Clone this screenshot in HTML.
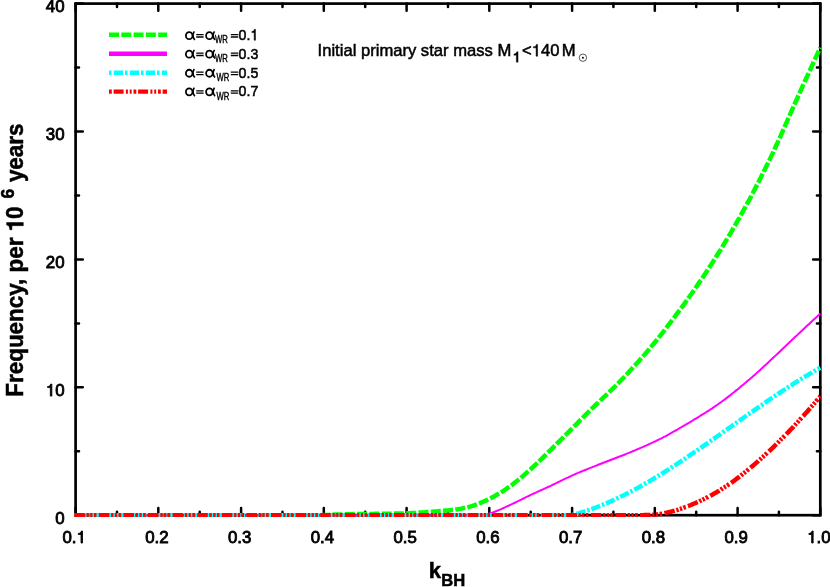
<!DOCTYPE html>
<html><head><meta charset="utf-8"><title>chart</title><style>html,body{margin:0;padding:0;background:#fff}svg text{font-family:"Liberation Sans",sans-serif;fill:#000}body{width:830px;height:587px;overflow:hidden}</style></head><body>
<svg width="830" height="587" viewBox="0 0 830 587" style="display:block;will-change:transform">
<rect width="830" height="587" fill="#fff"/>
<rect x="75.6" y="3.6" width="744.6999999999999" height="511.6" fill="none" stroke="#000" stroke-width="2.7"/>
<path d="M75.6,515.2v-7.2M75.6,3.6v7.2M117.0,515.2v-3.4M117.0,3.6v3.4M158.3,515.2v-7.2M158.3,3.6v7.2M199.7,515.2v-3.4M199.7,3.6v3.4M241.1,515.2v-7.2M241.1,3.6v7.2M282.5,515.2v-3.4M282.5,3.6v3.4M323.8,515.2v-7.2M323.8,3.6v7.2M365.2,515.2v-3.4M365.2,3.6v3.4M406.6,515.2v-7.2M406.6,3.6v7.2M448.0,515.2v-3.4M448.0,3.6v3.4M489.3,515.2v-7.2M489.3,3.6v7.2M530.7,515.2v-3.4M530.7,3.6v3.4M572.1,515.2v-7.2M572.1,3.6v7.2M613.4,515.2v-3.4M613.4,3.6v3.4M654.8,515.2v-7.2M654.8,3.6v7.2M696.2,515.2v-3.4M696.2,3.6v3.4M737.6,515.2v-7.2M737.6,3.6v7.2M778.9,515.2v-3.4M778.9,3.6v3.4M820.3,515.2v-7.2M820.3,3.6v7.2M75.6,515.2h7.2M820.3,515.2h-7.2M75.6,451.3h3.4M820.3,451.3h-3.4M75.6,387.3h7.2M820.3,387.3h-7.2M75.6,323.4h3.4M820.3,323.4h-3.4M75.6,259.4h7.2M820.3,259.4h-7.2M75.6,195.5h3.4M820.3,195.5h-3.4M75.6,131.5h7.2M820.3,131.5h-7.2M75.6,67.6h3.4M820.3,67.6h-3.4M75.6,3.6h7.2M820.3,3.6h-7.2" stroke="#000" stroke-width="2.5" stroke-linecap="round" fill="none"/>
<clipPath id="cp"><rect x="0" y="0" width="830" height="517.1"/></clipPath><g clip-path="url(#cp)">
<path d="M74.19999999999999,515.2 L323.0,515.2 L324.9,515.1 L326.8,515.0 L328.8,514.9 L330.7,514.8 L332.6,514.7 L334.5,514.6 L336.4,514.6 L338.4,514.5 L340.3,514.4 L342.2,514.4 L344.1,514.3 L346.0,514.3 L348.0,514.2 L349.9,514.2 L351.8,514.2 L353.7,514.1 L355.6,514.1 L357.6,514.1 L359.5,514.0 L361.4,514.0 L363.3,514.0 L365.2,514.0 L367.2,513.9 L369.1,513.9 L371.0,513.9 L372.9,513.9 L374.8,513.8 L376.8,513.8 L378.7,513.8 L380.6,513.8 L382.5,513.8 L384.4,513.7 L386.4,513.7 L388.3,513.7 L390.2,513.7 L392.1,513.6 L394.0,513.6 L396.0,513.6 L397.9,513.5 L399.8,513.5 L401.7,513.5 L403.6,513.4 L405.6,513.3 L407.5,513.3 L409.4,513.2 L411.3,513.1 L413.2,513.0 L415.2,512.9 L417.1,512.8 L419.0,512.6 L420.9,512.5 L422.8,512.4 L424.8,512.3 L426.7,512.1 L428.6,512.0 L430.5,511.9 L432.4,511.7 L434.4,511.6 L436.3,511.5 L438.2,511.3 L440.1,511.1 L442.0,511.0 L444.0,510.8 L445.9,510.6 L447.8,510.4 L449.7,510.2 L451.6,510.0 L453.6,509.8 L455.5,509.5 L457.4,509.3 L459.3,508.9 L461.2,508.6 L463.2,508.2 L465.1,507.8 L467.0,507.4 L468.9,506.9 L470.8,506.4 L472.8,505.8 L474.7,505.1 L476.6,504.4 L478.5,503.7 L480.4,502.9 L482.4,502.1 L484.3,501.2 L486.2,500.4 L488.1,499.5 L490.0,498.5 L492.0,497.5 L493.9,496.5 L495.8,495.4 L497.7,494.3 L499.6,493.2 L501.6,492.0 L503.5,490.8 L505.4,489.5 L507.3,488.2 L509.2,486.9 L511.2,485.5 L513.1,484.1 L515.0,482.6 L516.9,481.1 L518.8,479.5 L520.8,477.9 L522.7,476.3 L524.6,474.6 L526.5,472.9 L528.4,471.2 L530.4,469.5 L532.3,467.7 L534.2,465.9 L536.1,464.1 L538.0,462.3 L540.0,460.4 L541.9,458.6 L543.8,456.7 L545.7,454.8 L547.6,452.9 L549.6,451.0 L551.5,449.1 L553.4,447.2 L555.3,445.2 L557.2,443.3 L559.2,441.4 L561.1,439.5 L563.0,437.6 L564.9,435.7 L566.8,433.8 L568.8,431.8 L570.7,429.9 L572.6,428.0 L574.5,426.0 L576.5,424.1 L578.4,422.1 L580.3,420.2 L582.2,418.3 L584.1,416.3 L586.1,414.4 L588.0,412.5 L589.9,410.6 L591.8,408.7 L593.7,406.9 L595.7,405.0 L597.6,403.2 L599.5,401.4 L601.4,399.5 L603.3,397.7 L605.3,395.9 L607.2,394.1 L609.1,392.2 L611.0,390.4 L612.9,388.5 L614.9,386.6 L616.8,384.7 L618.7,382.7 L620.6,380.8 L622.5,378.8 L624.5,376.8 L626.4,374.7 L628.3,372.7 L630.2,370.6 L632.1,368.5 L634.1,366.4 L636.0,364.3 L637.9,362.2 L639.8,360.0 L641.7,357.8 L643.7,355.6 L645.6,353.4 L647.5,351.2 L649.4,348.9 L651.3,346.6 L653.3,344.3 L655.2,342.0 L657.1,339.6 L659.0,337.2 L660.9,334.8 L662.9,332.3 L664.8,329.9 L666.7,327.4 L668.6,324.9 L670.5,322.4 L672.5,319.8 L674.4,317.3 L676.3,314.7 L678.2,312.1 L680.1,309.5 L682.1,306.9 L684.0,304.3 L685.9,301.6 L687.8,298.9 L689.7,296.2 L691.7,293.5 L693.6,290.8 L695.5,288.0 L697.4,285.2 L699.3,282.4 L701.3,279.6 L703.2,276.8 L705.1,273.9 L707.0,271.0 L708.9,268.0 L710.9,265.1 L712.8,262.1 L714.7,259.1 L716.6,256.0 L718.5,253.0 L720.5,249.9 L722.4,246.8 L724.3,243.6 L726.2,240.4 L728.1,237.2 L730.1,234.0 L732.0,230.7 L733.9,227.4 L735.8,224.1 L737.7,220.7 L739.7,217.3 L741.6,213.9 L743.5,210.4 L745.4,206.9 L747.3,203.4 L749.3,199.8 L751.2,196.2 L753.1,192.5 L755.0,188.8 L756.9,185.1 L758.9,181.4 L760.8,177.6 L762.7,173.7 L764.6,169.9 L766.5,166.0 L768.5,162.1 L770.4,158.1 L772.3,154.1 L774.2,150.0 L776.1,145.8 L778.1,141.6 L780.0,137.4 L781.9,133.1 L783.8,128.7 L785.7,124.4 L787.7,120.0 L789.6,115.6 L791.5,111.2 L793.4,106.9 L795.3,102.5 L797.3,98.2 L799.2,93.9 L801.1,89.7 L803.0,85.4 L804.9,81.2 L806.9,77.0 L808.8,72.8 L810.7,68.6 L812.6,64.4 L814.5,60.2 L816.5,56.0 L818.4,51.8 L820.3,47.6" fill="none" stroke="#00ff00" stroke-width="4.5" stroke-dasharray="10 2.3"/>
<path d="M74.19999999999999,515.2 L483.0,515.2 L484.3,514.9 L485.6,514.6 L486.9,514.3 L488.2,513.9 L489.5,513.5 L490.8,513.1 L492.1,512.7 L493.4,512.2 L494.7,511.7 L496.0,511.2 L497.3,510.7 L498.6,510.2 L499.9,509.6 L501.2,509.1 L502.5,508.5 L503.8,507.9 L505.1,507.3 L506.4,506.7 L507.7,506.1 L509.0,505.5 L510.3,504.8 L511.7,504.2 L513.0,503.6 L514.3,503.0 L515.6,502.3 L516.9,501.7 L518.2,501.1 L519.5,500.4 L520.8,499.8 L522.1,499.2 L523.4,498.5 L524.7,497.9 L526.0,497.2 L527.3,496.6 L528.6,496.0 L529.9,495.4 L531.2,494.7 L532.5,494.1 L533.8,493.5 L535.1,492.9 L536.4,492.3 L537.7,491.7 L539.0,491.1 L540.3,490.5 L541.6,490.0 L542.9,489.4 L544.2,488.8 L545.5,488.2 L546.8,487.6 L548.1,487.0 L549.4,486.4 L550.7,485.8 L552.0,485.1 L553.3,484.5 L554.6,483.9 L555.9,483.3 L557.2,482.6 L558.5,482.0 L559.8,481.4 L561.1,480.7 L562.4,480.1 L563.7,479.4 L565.0,478.8 L566.3,478.2 L567.7,477.6 L569.0,477.0 L570.3,476.3 L571.6,475.7 L572.9,475.2 L574.2,474.6 L575.5,474.0 L576.8,473.4 L578.1,472.9 L579.4,472.3 L580.7,471.8 L582.0,471.3 L583.3,470.7 L584.6,470.2 L585.9,469.7 L587.2,469.2 L588.5,468.6 L589.8,468.1 L591.1,467.6 L592.4,467.1 L593.7,466.6 L595.0,466.1 L596.3,465.6 L597.6,465.0 L598.9,464.5 L600.2,464.0 L601.5,463.5 L602.8,463.0 L604.1,462.5 L605.4,462.0 L606.7,461.5 L608.0,461.0 L609.3,460.5 L610.6,460.0 L611.9,459.5 L613.2,459.0 L614.5,458.5 L615.8,458.0 L617.1,457.5 L618.4,457.0 L619.7,456.5 L621.0,456.0 L622.3,455.5 L623.7,455.0 L625.0,454.5 L626.3,453.9 L627.6,453.4 L628.9,452.9 L630.2,452.3 L631.5,451.8 L632.8,451.2 L634.1,450.7 L635.4,450.2 L636.7,449.6 L638.0,449.0 L639.3,448.5 L640.6,447.9 L641.9,447.4 L643.2,446.8 L644.5,446.2 L645.8,445.7 L647.1,445.1 L648.4,444.5 L649.7,443.9 L651.0,443.3 L652.3,442.7 L653.6,442.1 L654.9,441.5 L656.2,440.9 L657.5,440.2 L658.8,439.6 L660.1,438.9 L661.4,438.3 L662.7,437.6 L664.0,436.9 L665.3,436.3 L666.6,435.6 L667.9,434.9 L669.2,434.2 L670.5,433.4 L671.8,432.7 L673.1,432.0 L674.4,431.2 L675.7,430.5 L677.0,429.8 L678.3,429.0 L679.6,428.2 L681.0,427.5 L682.3,426.7 L683.6,425.9 L684.9,425.2 L686.2,424.4 L687.5,423.6 L688.8,422.8 L690.1,422.1 L691.4,421.3 L692.7,420.5 L694.0,419.7 L695.3,418.9 L696.6,418.1 L697.9,417.3 L699.2,416.5 L700.5,415.7 L701.8,414.9 L703.1,414.1 L704.4,413.3 L705.7,412.5 L707.0,411.6 L708.3,410.8 L709.6,410.0 L710.9,409.1 L712.2,408.3 L713.5,407.4 L714.8,406.5 L716.1,405.6 L717.4,404.7 L718.7,403.8 L720.0,402.9 L721.3,402.0 L722.6,401.0 L723.9,400.0 L725.2,399.1 L726.5,398.1 L727.8,397.1 L729.1,396.1 L730.4,395.1 L731.7,394.0 L733.0,393.0 L734.3,392.0 L735.6,390.9 L737.0,389.9 L738.3,388.8 L739.6,387.7 L740.9,386.6 L742.2,385.5 L743.5,384.4 L744.8,383.3 L746.1,382.2 L747.4,381.1 L748.7,380.0 L750.0,378.9 L751.3,377.8 L752.6,376.7 L753.9,375.5 L755.2,374.4 L756.5,373.2 L757.8,372.1 L759.1,370.9 L760.4,369.7 L761.7,368.5 L763.0,367.3 L764.3,366.1 L765.6,364.9 L766.9,363.7 L768.2,362.5 L769.5,361.2 L770.8,360.0 L772.1,358.8 L773.4,357.6 L774.7,356.4 L776.0,355.1 L777.3,353.9 L778.6,352.7 L779.9,351.5 L781.2,350.2 L782.5,349.0 L783.8,347.8 L785.1,346.6 L786.4,345.3 L787.7,344.1 L789.0,342.8 L790.3,341.6 L791.6,340.3 L793.0,339.1 L794.3,337.8 L795.6,336.6 L796.9,335.4 L798.2,334.1 L799.5,332.9 L800.8,331.7 L802.1,330.5 L803.4,329.2 L804.7,328.0 L806.0,326.8 L807.3,325.6 L808.6,324.4 L809.9,323.2 L811.2,322.0 L812.5,320.8 L813.8,319.6 L815.1,318.4 L816.4,317.2 L817.7,316.0 L819.0,314.8 L820.3,313.6" fill="none" stroke="#ff00ff" stroke-width="2.0"/>
<path d="M74.19999999999999,515.2 L571.4,515.2 L572.4,515.0 L573.3,514.7 L574.3,514.5 L575.2,514.2 L576.2,513.9 L577.2,513.7 L578.1,513.4 L579.1,513.1 L580.0,512.8 L581.0,512.5 L582.0,512.2 L582.9,511.9 L583.9,511.7 L584.9,511.3 L585.8,511.0 L586.8,510.7 L587.7,510.4 L588.7,510.1 L589.7,509.8 L590.6,509.4 L591.6,509.1 L592.5,508.7 L593.5,508.4 L594.5,508.0 L595.4,507.7 L596.4,507.3 L597.3,506.9 L598.3,506.6 L599.3,506.2 L600.2,505.8 L601.2,505.4 L602.2,505.0 L603.1,504.6 L604.1,504.2 L605.0,503.8 L606.0,503.4 L607.0,503.0 L607.9,502.6 L608.9,502.2 L609.8,501.7 L610.8,501.3 L611.8,500.9 L612.7,500.4 L613.7,500.0 L614.6,499.5 L615.6,499.1 L616.6,498.6 L617.5,498.2 L618.5,497.7 L619.5,497.3 L620.4,496.8 L621.4,496.3 L622.3,495.9 L623.3,495.4 L624.3,494.9 L625.2,494.4 L626.2,493.9 L627.1,493.5 L628.1,493.0 L629.1,492.5 L630.0,492.0 L631.0,491.5 L631.9,491.0 L632.9,490.5 L633.9,490.0 L634.8,489.5 L635.8,488.9 L636.7,488.4 L637.7,487.9 L638.7,487.4 L639.6,486.8 L640.6,486.3 L641.6,485.7 L642.5,485.2 L643.5,484.6 L644.4,484.1 L645.4,483.5 L646.4,483.0 L647.3,482.4 L648.3,481.9 L649.2,481.3 L650.2,480.7 L651.2,480.1 L652.1,479.6 L653.1,479.0 L654.0,478.4 L655.0,477.8 L656.0,477.3 L656.9,476.7 L657.9,476.1 L658.9,475.5 L659.8,474.9 L660.8,474.3 L661.7,473.7 L662.7,473.1 L663.7,472.5 L664.6,471.9 L665.6,471.3 L666.5,470.7 L667.5,470.1 L668.5,469.5 L669.4,468.9 L670.4,468.3 L671.3,467.6 L672.3,467.0 L673.3,466.4 L674.2,465.7 L675.2,465.1 L676.1,464.5 L677.1,463.8 L678.1,463.2 L679.0,462.6 L680.0,461.9 L681.0,461.3 L681.9,460.6 L682.9,460.0 L683.8,459.3 L684.8,458.7 L685.8,458.1 L686.7,457.4 L687.7,456.8 L688.6,456.1 L689.6,455.5 L690.6,454.8 L691.5,454.2 L692.5,453.5 L693.4,452.9 L694.4,452.2 L695.4,451.6 L696.3,450.9 L697.3,450.2 L698.3,449.6 L699.2,448.9 L700.2,448.3 L701.1,447.6 L702.1,446.9 L703.1,446.3 L704.0,445.6 L705.0,444.9 L705.9,444.2 L706.9,443.6 L707.9,442.9 L708.8,442.2 L709.8,441.6 L710.7,440.9 L711.7,440.2 L712.7,439.5 L713.6,438.9 L714.6,438.2 L715.6,437.5 L716.5,436.8 L717.5,436.2 L718.4,435.5 L719.4,434.8 L720.4,434.2 L721.3,433.5 L722.3,432.8 L723.2,432.1 L724.2,431.4 L725.2,430.8 L726.1,430.1 L727.1,429.4 L728.0,428.7 L729.0,428.0 L730.0,427.4 L730.9,426.7 L731.9,426.0 L732.8,425.3 L733.8,424.6 L734.8,424.0 L735.7,423.3 L736.7,422.6 L737.7,421.9 L738.6,421.2 L739.6,420.5 L740.5,419.9 L741.5,419.2 L742.5,418.5 L743.4,417.8 L744.4,417.1 L745.3,416.5 L746.3,415.8 L747.3,415.1 L748.2,414.4 L749.2,413.8 L750.1,413.1 L751.1,412.4 L752.1,411.8 L753.0,411.1 L754.0,410.4 L755.0,409.8 L755.9,409.1 L756.9,408.4 L757.8,407.7 L758.8,407.1 L759.8,406.4 L760.7,405.7 L761.7,405.1 L762.6,404.4 L763.6,403.7 L764.6,403.1 L765.5,402.4 L766.5,401.8 L767.4,401.1 L768.4,400.4 L769.4,399.8 L770.3,399.1 L771.3,398.5 L772.2,397.8 L773.2,397.2 L774.2,396.5 L775.1,395.9 L776.1,395.2 L777.1,394.6 L778.0,393.9 L779.0,393.3 L779.9,392.6 L780.9,392.0 L781.9,391.4 L782.8,390.7 L783.8,390.1 L784.7,389.5 L785.7,388.8 L786.7,388.2 L787.6,387.6 L788.6,386.9 L789.5,386.3 L790.5,385.7 L791.5,385.1 L792.4,384.5 L793.4,383.9 L794.4,383.2 L795.3,382.6 L796.3,382.0 L797.2,381.4 L798.2,380.8 L799.2,380.2 L800.1,379.6 L801.1,379.0 L802.0,378.4 L803.0,377.9 L804.0,377.3 L804.9,376.7 L805.9,376.1 L806.8,375.5 L807.8,375.0 L808.8,374.4 L809.7,373.8 L810.7,373.2 L811.7,372.7 L812.6,372.1 L813.6,371.6 L814.5,371.0 L815.5,370.4 L816.5,369.9 L817.4,369.3 L818.4,368.8 L819.3,368.2 L820.3,367.7" fill="none" stroke="#00ffff" stroke-width="4.5" stroke-dasharray="9.4 1.9 2.5 1.9"/>
<path d="M74.19999999999999,515.2 L640.0,515.2 L640.7,515.2 L641.4,515.2 L642.1,515.2 L642.8,515.2 L643.5,515.2 L644.2,515.1 L644.9,515.1 L645.6,515.1 L646.3,515.1 L647.0,515.0 L647.7,515.0 L648.4,515.0 L649.0,515.0 L649.7,514.9 L650.4,514.9 L651.1,514.8 L651.8,514.8 L652.5,514.8 L653.2,514.7 L653.9,514.7 L654.6,514.6 L655.3,514.6 L656.0,514.5 L656.7,514.5 L657.4,514.4 L658.1,514.3 L658.8,514.2 L659.5,514.1 L660.2,514.0 L660.9,513.9 L661.6,513.7 L662.3,513.6 L663.0,513.5 L663.7,513.3 L664.4,513.2 L665.1,513.0 L665.8,512.9 L666.5,512.7 L667.1,512.6 L667.8,512.4 L668.5,512.2 L669.2,512.1 L669.9,511.9 L670.6,511.8 L671.3,511.6 L672.0,511.4 L672.7,511.2 L673.4,511.0 L674.1,510.8 L674.8,510.6 L675.5,510.4 L676.2,510.2 L676.9,510.0 L677.6,509.8 L678.3,509.6 L679.0,509.3 L679.7,509.1 L680.4,508.9 L681.1,508.6 L681.8,508.4 L682.5,508.1 L683.2,507.9 L683.9,507.6 L684.6,507.4 L685.2,507.1 L685.9,506.9 L686.6,506.6 L687.3,506.3 L688.0,506.1 L688.7,505.8 L689.4,505.5 L690.1,505.3 L690.8,505.0 L691.5,504.7 L692.2,504.4 L692.9,504.1 L693.6,503.8 L694.3,503.5 L695.0,503.2 L695.7,502.9 L696.4,502.6 L697.1,502.3 L697.8,502.0 L698.5,501.7 L699.2,501.4 L699.9,501.0 L700.6,500.7 L701.3,500.4 L702.0,500.0 L702.7,499.7 L703.3,499.3 L704.0,499.0 L704.7,498.6 L705.4,498.3 L706.1,497.9 L706.8,497.6 L707.5,497.2 L708.2,496.8 L708.9,496.5 L709.6,496.1 L710.3,495.7 L711.0,495.4 L711.7,495.0 L712.4,494.6 L713.1,494.2 L713.8,493.8 L714.5,493.4 L715.2,493.0 L715.9,492.6 L716.6,492.2 L717.3,491.8 L718.0,491.4 L718.7,491.0 L719.4,490.5 L720.1,490.1 L720.8,489.7 L721.4,489.2 L722.1,488.8 L722.8,488.3 L723.5,487.9 L724.2,487.5 L724.9,487.0 L725.6,486.5 L726.3,486.1 L727.0,485.6 L727.7,485.2 L728.4,484.7 L729.1,484.2 L729.8,483.7 L730.5,483.3 L731.2,482.8 L731.9,482.3 L732.6,481.8 L733.3,481.3 L734.0,480.8 L734.7,480.3 L735.4,479.8 L736.1,479.2 L736.8,478.7 L737.5,478.2 L738.2,477.6 L738.9,477.1 L739.5,476.6 L740.2,476.0 L740.9,475.5 L741.6,474.9 L742.3,474.4 L743.0,473.8 L743.7,473.2 L744.4,472.7 L745.1,472.1 L745.8,471.5 L746.5,471.0 L747.2,470.4 L747.9,469.8 L748.6,469.3 L749.3,468.7 L750.0,468.1 L750.7,467.5 L751.4,466.9 L752.1,466.4 L752.8,465.8 L753.5,465.2 L754.2,464.6 L754.9,464.0 L755.6,463.4 L756.3,462.8 L757.0,462.2 L757.6,461.6 L758.3,461.0 L759.0,460.3 L759.7,459.7 L760.4,459.1 L761.1,458.5 L761.8,457.8 L762.5,457.2 L763.2,456.6 L763.9,455.9 L764.6,455.3 L765.3,454.7 L766.0,454.0 L766.7,453.4 L767.4,452.7 L768.1,452.1 L768.8,451.4 L769.5,450.8 L770.2,450.1 L770.9,449.5 L771.6,448.8 L772.3,448.1 L773.0,447.5 L773.7,446.8 L774.4,446.1 L775.1,445.5 L775.7,444.8 L776.4,444.1 L777.1,443.4 L777.8,442.7 L778.5,442.0 L779.2,441.3 L779.9,440.6 L780.6,439.9 L781.3,439.2 L782.0,438.5 L782.7,437.8 L783.4,437.1 L784.1,436.4 L784.8,435.7 L785.5,435.0 L786.2,434.3 L786.9,433.5 L787.6,432.8 L788.3,432.1 L789.0,431.4 L789.7,430.6 L790.4,429.9 L791.1,429.2 L791.8,428.5 L792.5,427.7 L793.2,427.0 L793.8,426.2 L794.5,425.5 L795.2,424.7 L795.9,424.0 L796.6,423.2 L797.3,422.5 L798.0,421.7 L798.7,421.0 L799.4,420.2 L800.1,419.4 L800.8,418.7 L801.5,417.9 L802.2,417.1 L802.9,416.3 L803.6,415.6 L804.3,414.8 L805.0,414.0 L805.7,413.2 L806.4,412.5 L807.1,411.7 L807.8,410.9 L808.5,410.1 L809.2,409.3 L809.9,408.5 L810.6,407.7 L811.3,406.9 L811.9,406.1 L812.6,405.3 L813.3,404.5 L814.0,403.7 L814.7,402.9 L815.4,402.1 L816.1,401.2 L816.8,400.4 L817.5,399.6 L818.2,398.8 L818.9,398.0 L819.6,397.1 L820.3,396.3" fill="none" stroke="#ff0000" stroke-width="4.5" stroke-dasharray="10.6 1.7 2.3 1.4 2.3 1.4 2.6 2.3"/>
</g>
<path d="M109,34.8H167" stroke="#00ff00" stroke-width="4.4" stroke-dasharray="10 2.3" fill="none"/>
<path d="M109,53.7H167" stroke="#ff00ff" stroke-width="4.4" fill="none"/>
<path d="M109,72.7H167" stroke="#00ffff" stroke-width="4.4" stroke-dasharray="2.5 2.3 9.2 2 " fill="none"/>
<path d="M109,91.6H167" stroke="#ff0000" stroke-width="4.4" stroke-dasharray="2.8 1.8 10 2.3 2 1.8 2 1.8" stroke-dashoffset="0" fill="none"/>
<g stroke="#000" stroke-width="0.85">
<ellipse cx="189.20" cy="35.65" rx="3.3" ry="3.5" fill="none" stroke="#000" stroke-width="1.8"/><path d="M194.30,31.40 Q191.30,35.70 194.80,40.00" fill="none" stroke="#000" stroke-width="1.65" stroke-linecap="butt"/><ellipse cx="209.40" cy="35.65" rx="3.3" ry="3.5" fill="none" stroke="#000" stroke-width="1.8"/><path d="M214.50,31.40 Q211.50,35.70 215.00,40.00" fill="none" stroke="#000" stroke-width="1.65" stroke-linecap="butt"/><path d="M196.20,34.60h7.4M196.20,37.00h7.4" fill="none" stroke="#000" stroke-width="1.3"/><path d="M230.80,34.60h7.4M230.80,37.00h7.4" fill="none" stroke="#000" stroke-width="1.3"/>
<text font-size="15.3" x="238.6" y="40.2" textLength="19.7" lengthAdjust="spacingAndGlyphs" stroke-width="0.55">0.<tspan visibility="hidden">1</tspan></text>
<path stroke-width="0.55" d="M255.44,40.20 L255.44,29.31 L254.49,29.31 C254.25,30.71 253.40,31.40 251.87,31.51 L251.87,32.47 L254.19,32.47 L254.19,40.20Z"/>
<text font-size="10.4" x="215.0" y="43.4" textLength="12.8" lengthAdjust="spacingAndGlyphs" stroke-width="0.4">WR</text>
<ellipse cx="189.20" cy="54.15" rx="3.3" ry="3.5" fill="none" stroke="#000" stroke-width="1.8"/><path d="M194.30,49.90 Q191.30,54.20 194.80,58.50" fill="none" stroke="#000" stroke-width="1.65" stroke-linecap="butt"/><ellipse cx="209.40" cy="54.15" rx="3.3" ry="3.5" fill="none" stroke="#000" stroke-width="1.8"/><path d="M214.50,49.90 Q211.50,54.20 215.00,58.50" fill="none" stroke="#000" stroke-width="1.65" stroke-linecap="butt"/><path d="M196.20,53.10h7.4M196.20,55.50h7.4" fill="none" stroke="#000" stroke-width="1.3"/><path d="M230.80,53.10h7.4M230.80,55.50h7.4" fill="none" stroke="#000" stroke-width="1.3"/>
<text font-size="15.3" x="238.6" y="58.7" textLength="19.7" lengthAdjust="spacingAndGlyphs" stroke-width="0.55">0.3</text>
<text font-size="10.4" x="215.0" y="61.9" textLength="12.8" lengthAdjust="spacingAndGlyphs" stroke-width="0.4">WR</text>
<ellipse cx="189.20" cy="73.25" rx="3.3" ry="3.5" fill="none" stroke="#000" stroke-width="1.8"/><path d="M194.30,69.00 Q191.30,73.30 194.80,77.60" fill="none" stroke="#000" stroke-width="1.65" stroke-linecap="butt"/><ellipse cx="209.40" cy="73.25" rx="3.3" ry="3.5" fill="none" stroke="#000" stroke-width="1.8"/><path d="M214.50,69.00 Q211.50,73.30 215.00,77.60" fill="none" stroke="#000" stroke-width="1.65" stroke-linecap="butt"/><path d="M196.20,72.20h7.4M196.20,74.60h7.4" fill="none" stroke="#000" stroke-width="1.3"/><path d="M230.80,72.20h7.4M230.80,74.60h7.4" fill="none" stroke="#000" stroke-width="1.3"/>
<text font-size="15.3" x="238.6" y="77.8" textLength="19.7" lengthAdjust="spacingAndGlyphs" stroke-width="0.55">0.5</text>
<text font-size="10.4" x="216.6" y="81.0" textLength="12.8" lengthAdjust="spacingAndGlyphs" stroke-width="0.4">WR</text>
<ellipse cx="189.20" cy="91.85" rx="3.3" ry="3.5" fill="none" stroke="#000" stroke-width="1.8"/><path d="M194.30,87.60 Q191.30,91.90 194.80,96.20" fill="none" stroke="#000" stroke-width="1.65" stroke-linecap="butt"/><ellipse cx="209.40" cy="91.85" rx="3.3" ry="3.5" fill="none" stroke="#000" stroke-width="1.8"/><path d="M214.50,87.60 Q211.50,91.90 215.00,96.20" fill="none" stroke="#000" stroke-width="1.65" stroke-linecap="butt"/><path d="M196.20,90.80h7.4M196.20,93.20h7.4" fill="none" stroke="#000" stroke-width="1.3"/><path d="M230.80,90.80h7.4M230.80,93.20h7.4" fill="none" stroke="#000" stroke-width="1.3"/>
<text font-size="15.3" x="238.6" y="96.39999999999999" textLength="19.7" lengthAdjust="spacingAndGlyphs" stroke-width="0.55">0.7</text>
<text font-size="10.4" x="216.6" y="99.6" textLength="12.8" lengthAdjust="spacingAndGlyphs" stroke-width="0.4">WR</text>
<g stroke-width="0.5">
<text font-size="16.6" x="317.6" y="56.2">Initial primary star mass M</text>
<path d="M518.1,51.7 L516.7,51.7 C516.4,53.1 515.3,53.8 513.9,54 L513.9,55.3 L516.3,55.3 L516.3,62.2 L518.1,62.2 Z" fill="#000" stroke-width="0.3"/>
<text font-size="16.6" x="522" y="56.2">&lt;<tspan visibility="hidden">1</tspan>40</text>
<path d="M537.57,56.20 L537.57,44.38 L536.46,44.38 C536.18,45.91 535.18,46.66 533.39,46.77 L533.39,47.82 L536.11,47.82 L536.11,56.20Z"/>
<text font-size="16.6" x="561.8" y="56.2">M</text>
</g>
<text font-size="16.85" text-anchor="end" x="64.6" y="524.0">0</text>
<text font-size="16.85" text-anchor="end" x="64.6" y="396.1"><tspan visibility="hidden">1</tspan>0</text>
<path d="M51.83,396.10 L51.83,384.10 L50.70,384.10 C50.41,385.65 49.40,386.41 47.58,386.53 L47.58,387.59 L50.34,387.59 L50.34,396.10Z"/>
<text font-size="16.85" text-anchor="end" x="64.6" y="268.2">20</text>
<text font-size="16.85" text-anchor="end" x="64.6" y="140.3">30</text>
<text font-size="16.85" text-anchor="end" x="64.6" y="12.4">40</text>
<text font-size="16.85" text-anchor="middle" x="74.2" y="543.0">0.<tspan visibility="hidden">1</tspan></text>
<path d="M82.51,543.00 L82.51,531.00 L81.38,531.00 C81.09,532.55 80.08,533.31 78.26,533.43 L78.26,534.49 L81.02,534.49 L81.02,543.00Z"/>
<text font-size="16.85" text-anchor="middle" x="156.9" y="543.0">0.2</text>
<text font-size="16.85" text-anchor="middle" x="239.7" y="543.0">0.3</text>
<text font-size="16.85" text-anchor="middle" x="322.4" y="543.0">0.4</text>
<text font-size="16.85" text-anchor="middle" x="405.2" y="543.0">0.5</text>
<text font-size="16.85" text-anchor="middle" x="487.9" y="543.0">0.6</text>
<text font-size="16.85" text-anchor="middle" x="570.7" y="543.0">0.7</text>
<text font-size="16.85" text-anchor="middle" x="653.4" y="543.0">0.8</text>
<text font-size="16.85" text-anchor="middle" x="736.2" y="543.0">0.9</text>
<text font-size="16.85" text-anchor="middle" x="818.9" y="543.0"><tspan visibility="hidden">1</tspan>.0</text>
<path d="M813.15,543.00 L813.15,531.00 L812.03,531.00 C811.74,532.55 810.73,533.31 808.91,533.43 L808.91,534.49 L811.67,534.49 L811.67,543.00Z"/>
</g>
<circle cx="582.9" cy="57.7" r="3.7" fill="none" stroke="#222" stroke-width="0.75"/><circle cx="582.9" cy="57.7" r="1" fill="#000"/>
<g stroke="#000" stroke-width="0.5" font-weight="bold">
<text font-size="22" x="428.8" y="578.0">k</text>
<text font-size="16.6" x="441.2" y="585.6">BH</text>
<g transform="translate(23.3,396.7) rotate(-90)"><text font-size="23.3" x="0" y="0" textLength="190.3" lengthAdjust="spacingAndGlyphs">Frequency, per <tspan visibility="hidden">1</tspan>0</text><path d="M174.19,0.00 L174.19,-16.68 L171.75,-16.68 C171.41,-14.45 169.84,-13.63 166.91,-13.51 L166.91,-11.37 L171.05,-11.37 L171.05,0.00Z"/><text font-size="17.5" x="198.3" y="-9.4">6</text><text font-size="23.3" x="214.6" y="0" textLength="58.6" lengthAdjust="spacingAndGlyphs">years</text></g>
</g>
</svg>
</body></html>
